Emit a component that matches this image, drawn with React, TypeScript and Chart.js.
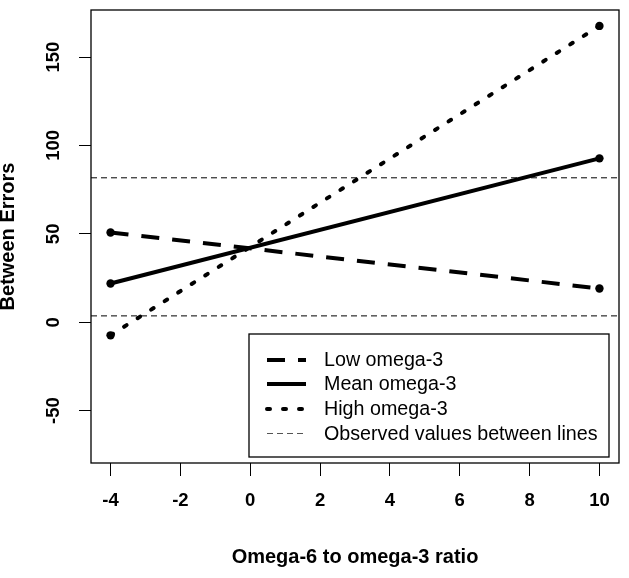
import React, { useEffect, useRef } from 'react';
import { Chart, registerables } from 'chart.js';

Chart.register(...registerables);

// ---- data ----
const X_VALUES = [-4, 10];
const LOW_OMEGA3 = [50.8, 19.1];
const MEAN_OMEGA3 = [21.9, 92.7];
const HIGH_OMEGA3 = [-7.4, 167.6];
const OBSERVED_BOUNDS = [3.6, 81.7];
const X_TICKS = [-4, -2, 0, 2, 4, 6, 8, 10];
const Y_TICKS = [-50, 0, 50, 100, 150];
const X_RANGE = [-4.56, 10.56];
const Y_RANGE = [-79.6, 176.6];
const SERIES_LABELS = ['Low omega-3', 'Mean omega-3', 'High omega-3', 'Observed values between lines'];
const X_TITLE = 'Omega-6 to omega-3 ratio';
const Y_TITLE = 'Between Errors';

const FONT = '"Liberation Sans", Arial, Helvetica, sans-serif';
const LEGEND_DATASETS = [0, 1, 2, 3];

const boxPlugin = {
  id: 'plotBox',
  afterDraw(chart: any) {
    const { ctx, chartArea } = chart;
    ctx.save();
    ctx.strokeStyle = '#000';
    ctx.lineWidth = 1.3;
    ctx.setLineDash([]);
    ctx.strokeRect(chartArea.left, chartArea.top, chartArea.right - chartArea.left, chartArea.bottom - chartArea.top);
    ctx.restore();
  },
};

const legendPlugin = {
  id: 'insetLegend',
  afterDraw(chart: any) {
    const { ctx, chartArea } = chart;
    const w = 360;
    const h = 123;
    const x0 = chartArea.right - 10 - w;
    const y0 = chartArea.bottom - 6 - h;
    ctx.save();
    ctx.fillStyle = '#fff';
    ctx.fillRect(x0, y0, w, h);
    ctx.strokeStyle = '#000';
    ctx.lineWidth = 1.3;
    ctx.setLineDash([]);
    ctx.strokeRect(x0, y0, w, h);
    LEGEND_DATASETS.forEach((di, i) => {
      const ds: any = chart.data.datasets[di];
      const y = Math.round(y0 + 26 + i * 24.3) + (ds.borderWidth === 1 ? 0.5 : 0);
      ctx.beginPath();
      ctx.setLineDash(ds.borderDash || []);
      ctx.lineWidth = ds.borderWidth;
      ctx.strokeStyle = ds.borderWidth === 1 ? '#555' : ds.borderColor;
      ctx.lineCap = ds.borderCapStyle || 'butt';
      ctx.moveTo(x0 + 18, y);
      ctx.lineTo(x0 + 57, y);
      ctx.stroke();
      ctx.setLineDash([]);
      ctx.fillStyle = '#000';
      ctx.font = `19.7px ${FONT}`;
      ctx.textBaseline = 'middle';
      ctx.textAlign = 'left';
      ctx.fillText(ds.label, x0 + 75, y + 1);
    });
    ctx.restore();
  },
};

const pts = (ys: number[]) => X_VALUES.map((x, i) => ({ x, y: ys[i] }));
const hline = (y: number) => [
  { x: X_RANGE[0], y },
  { x: X_RANGE[1], y },
];

export default function App() {
  const ref = useRef<HTMLCanvasElement>(null);

  useEffect(() => {
    if (!ref.current) return;
    const chart = new Chart(ref.current, {
      type: 'line',
      data: {
        datasets: [
          {
            label: SERIES_LABELS[0],
            data: pts(LOW_OMEGA3),
            borderColor: '#000',
            backgroundColor: '#000',
            borderWidth: 4,
            borderDash: [18, 13],
            borderCapStyle: 'butt',
            pointRadius: 4.2,
            pointBorderWidth: 0,
            pointBackgroundColor: '#000',
            tension: 0,
          },
          {
            label: SERIES_LABELS[1],
            data: pts(MEAN_OMEGA3),
            borderColor: '#000',
            backgroundColor: '#000',
            borderWidth: 4,
            borderDash: [],
            borderCapStyle: 'butt',
            pointRadius: 4.2,
            pointBorderWidth: 0,
            pointBackgroundColor: '#000',
            tension: 0,
          },
          {
            label: SERIES_LABELS[2],
            data: pts(HIGH_OMEGA3),
            borderColor: '#000',
            backgroundColor: '#000',
            borderWidth: 4,
            borderDash: [3, 13],
            borderCapStyle: 'round',
            pointRadius: 4.2,
            pointBorderWidth: 0,
            pointBackgroundColor: '#000',
            tension: 0,
          },
          {
            label: SERIES_LABELS[3],
            data: hline(OBSERVED_BOUNDS[1]),
            borderColor: '#000',
            borderWidth: 1,
            borderDash: [6, 4],
            pointRadius: 0,
            tension: 0,
          },
          {
            label: SERIES_LABELS[3],
            data: hline(OBSERVED_BOUNDS[0]),
            borderColor: '#000',
            borderWidth: 1,
            borderDash: [6, 4],
            pointRadius: 0,
            tension: 0,
          },
        ],
      } as any,
      options: {
        responsive: false,
        maintainAspectRatio: false,
        animation: false,
        devicePixelRatio: 1,
        layout: { padding: { top: 10, right: 10, left: 0, bottom: 0 } },
        plugins: {
          legend: { display: false },
          tooltip: { enabled: false },
        },
        scales: {
          x: {
            type: 'linear',
            min: X_RANGE[0],
            max: X_RANGE[1],
            afterBuildTicks: (s: any) => {
              s.ticks = X_TICKS.map((v) => ({ value: v }));
            },
            afterFit: (s: any) => {
              s.height = 115;
              s.paddingLeft = 0;
              s.paddingRight = 0;
            },
            grid: { drawOnChartArea: false, drawTicks: true, tickLength: 13, color: '#000', lineWidth: 1 },
            border: { display: false },
            ticks: {
              autoSkip: false,
              maxRotation: 0,
              minRotation: 0,
              padding: 13.6,
              color: '#000',
              font: { family: FONT, size: 18.5, weight: 'bold' },
              callback: (v: any) => String(v),
            },
            title: {
              display: true,
              text: X_TITLE,
              color: '#000',
              font: { family: FONT, size: 20, weight: 'bold' },
              padding: { top: 0, bottom: 9 },
            },
          },
          y: {
            type: 'linear',
            min: Y_RANGE[0],
            max: Y_RANGE[1],
            afterBuildTicks: (s: any) => {
              s.ticks = Y_TICKS.map((v) => ({ value: v }));
            },
            afterFit: (s: any) => {
              s.width = 91;
              s.paddingTop = 0;
              s.paddingBottom = 0;
            },
            grid: { drawOnChartArea: false, drawTicks: true, tickLength: 12, color: '#000', lineWidth: 1 },
            border: { display: false },
            ticks: {
              minRotation: 90,
              maxRotation: 90,
              crossAlign: 'center',
              padding: 10,
              color: '#000',
              font: { family: FONT, size: 18.5, weight: 'bold' },
              callback: (v: any) => String(v),
            },
            title: {
              display: true,
              text: Y_TITLE,
              color: '#000',
              font: { family: FONT, size: 20, weight: 'bold', lineHeight: 0.8 },
              padding: 0,
            },
          },
        },
      } as any,
      plugins: [boxPlugin, legendPlugin],
    });
    return () => chart.destroy();
  }, []);

  return (
    <div style={{ position: 'fixed', left: 0, top: 0, width: 629, height: 578, background: '#fff' }}>
      <canvas ref={ref} width={629} height={578} style={{ display: 'block' }} />
    </div>
  );
}
